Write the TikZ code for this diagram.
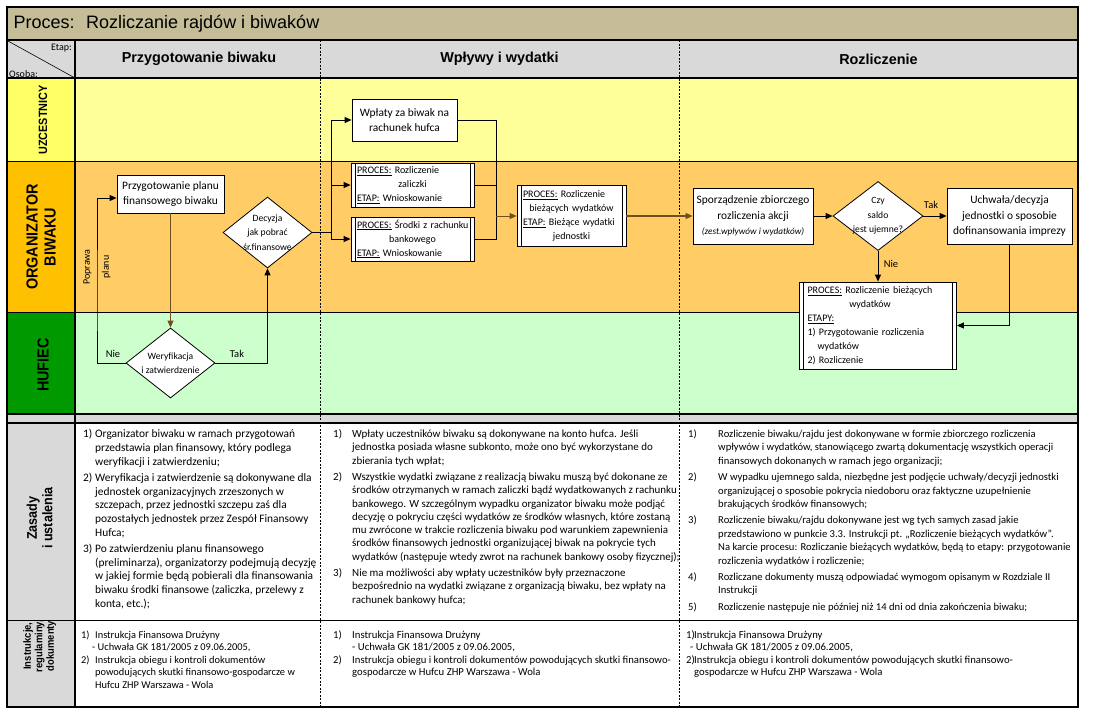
\documentclass[tikz,border=0pt]{standalone}
\usepackage{fontspec}
\setmainfont{Carlito}
\newfontfamily\arialfont{Liberation Sans}
\usetikzlibrary{calc,arrows.meta,shapes.geometric}

\definecolor{tytul}{RGB}{196,189,151}
\definecolor{szary}{RGB}{217,217,217}
\definecolor{torzolty}{RGB}{255,255,153}
\definecolor{torpom}{RGB}{255,204,102}
\definecolor{torziel}{RGB}{204,255,204}
\definecolor{etzolty}{RGB}{255,255,102}
\definecolor{etpom}{RGB}{255,192,0}
\definecolor{etziel}{RGB}{0,153,0}
\definecolor{braz}{RGB}{110,80,30}

\newcommand{\wsrodku}[2][\linewidth]{\makebox[#1][c]{#2}}

\tikzset{
  krok/.style={draw, fill=white, line width=0.8pt, align=center, inner sep=2pt,
    font=\fontsize{11.4}{15.5}\selectfont},
  decyzja/.style={diamond, draw, fill=white, line width=0.8pt, inner sep=0pt,
    minimum width=89, minimum height=70},
  dtekst/.style={align=center, font=\fontsize{9.6}{14.5}\selectfont},
  podproces/.style={draw, fill=white, line width=0.8pt, align=left, inner ysep=1pt,
    font=\fontsize{10}{14}\selectfont,
    path picture={\draw[line width=0.8pt]
      ([xshift=4pt]path picture bounding box.north west) -- ([xshift=4pt]path picture bounding box.south west)
      ([xshift=-4pt]path picture bounding box.north east) -- ([xshift=-4pt]path picture bounding box.south east);}},
  strz/.style={line width=0.9pt, -{Triangle[length=7pt,width=6pt]}},
  linia/.style={line width=0.9pt},
  opis/.style={font=\fontsize{10.5}{12}\selectfont},
  osoba/.style={rotate=90, font=\arialfont\bfseries},
  zasady/.style={anchor=north west, inner sep=0pt, align=left},
  kolumna/.style={line width=0.8pt, dash pattern=on 2pt off 1.5pt}
}

\begin{document}
\begin{tikzpicture}[x=1pt,y=-1pt]
\fill[white] (0,0) rectangle (1103,712);
\useasboundingbox (0,0) rectangle (1103,712);

% tla
\fill[tytul] (7,7) rectangle (1078,40);
\fill[szary] (7,40) rectangle (1078,78);
\fill[torzolty] (75,78) rectangle (1078,161);
\fill[torpom] (75,161) rectangle (1078,312);
\fill[torziel] (75,312) rectangle (1078,414);
\fill[etzolty] (7,78) rectangle (75,161);
\fill[etpom] (7,161) rectangle (75,312);
\fill[etziel] (7,312) rectangle (75,414);
\fill[szary] (7,414) rectangle (1078,423);
\fill[szary] (7,423) rectangle (75,707);

% siatka
\draw[line width=1.6pt] (7,40) -- (1078,40);
\draw[line width=1.6pt] (7,78) -- (1078,78);
\draw[line width=0.8pt] (7,161) -- (1078,161);
\draw[line width=0.8pt] (7,312) -- (1078,312);
\draw[line width=2pt] (7,414) -- (1078,414);
\draw[line width=2pt] (7,423) -- (1078,423);
\draw[line width=1pt] (7,620) -- (1078,620);
\foreach \x in {320,679}
  \draw[kolumna] (\x,40) -- (\x,707);
\draw[line width=1.2pt] (75,40) -- (75,707);
\draw[line width=0.6pt] (8,41) -- (75,78);
\draw[line width=2.5pt] (7,7) rectangle (1078,707);

% naglowki
\node[anchor=west, font=\arialfont\fontsize{18}{20}\selectfont] (proces) at (10,23.5) {Proces:~ Rozliczanie rajdów i biwaków};
\node[anchor=north east, inner sep=1pt, font=\fontsize{10}{12}\selectfont] (etap) at (73,43) {Etap:};
\node[anchor=south west, inner sep=1pt, font=\fontsize{10}{12}\selectfont] (osoba) at (8,79) {Osoba:};
\node[font=\arialfont\bfseries\fontsize{14.4}{16}\selectfont] (etap1) at (199,59) {Przygotowanie biwaku};
\node[font=\arialfont\bfseries\fontsize{14.4}{16}\selectfont] (etap2) at (499.5,59) {Wpływy i wydatki};
\node[font=\arialfont\bfseries\fontsize{14.4}{16}\selectfont] (etap3) at (878.5,59) {Rozliczenie};

\node[osoba] (uczestnicy) at (43,120) {\scalebox{0.9}[1]{\fontsize{12}{14}\selectfont UZCESTNICY}};
\node[osoba] (organizator) at (43,237) {\scalebox{0.9}[1]{\fontsize{16}{18}\selectfont
  \begin{tabular}{@{}c@{}}ORGANIZATOR\\BIWAKU\end{tabular}}};
\node[osoba] (hufiec) at (43,365) {\scalebox{0.9}[1]{\fontsize{16}{18}\selectfont HUFIEC}};
\node[osoba] (zasady) at (41.5,518) {\scalebox{0.9}[1]{\fontsize{14}{15.5}\selectfont
  \begin{tabular}{@{}c@{}}Zasady\\i ustalenia\end{tabular}}};
\node[osoba] (instrukcje) at (40,646) {\scalebox{0.9}[1]{\fontsize{10.5}{11.5}\selectfont
  \begin{tabular}{@{}c@{}}Instrukcje,\\regulaminy,\\dokumenty\end{tabular}}};

% przebieg
\node[krok, minimum width=107, minimum height=38] (plan) at (170.5,194) {Przygotowanie planu\\finansowego biwaku};
\node[decyzja, label={[dtekst]center:{Weryfikacja\\i zatwierdzenie}}] (wer) at (170.5,363) {};
\node[decyzja, minimum height=71, label={[dtekst]center:{Decyzja\\jak pobrać\\śr.finansowe}}] (dec) at (267.5,232.5) {};
\node[krok, minimum width=105, minimum height=42] (wplaty) at (404.5,120) {Wpłaty za biwak na\\rachunek hufca};
\node[podproces, text width=111, inner xsep=6, minimum height=44] (zal) at (412.5,185)
  {\underline{PROCES:} Rozliczenie\\\wsrodku{zaliczki}\\\underline{ETAP:} Wnioskowanie};
\node[podproces, text width=111, inner xsep=6, minimum height=44] (srodki) at (412.5,239)
  {\mbox{\underline{PROCES:} Środki z rachunku}\\\wsrodku{bankowego}\\\underline{ETAP:} Wnioskowanie};
\node[podproces, text width=97, inner xsep=6, minimum height=61] (biez) at (571.5,216)
  {\underline{PROCES:} Rozliczenie\\\wsrodku{bieżących wydatków}\\\underline{ETAP:} Bieżące wydatki\\\wsrodku{jednostki}};
\node[krok, minimum width=120, minimum height=56] (spor) at (753,216)
  {Sporządzenie zbiorczego\\rozliczenia akcji\\{\fontsize{9.2}{15.5}\selectfont\itshape (zest.wpływów i wydatków)}};
\node[decyzja, minimum width=90, minimum height=69, label={[dtekst]center:{Czy\\saldo\\jest ujemne?}}] (czy) at (878,216) {};
\node[krok, minimum width=125, minimum height=56] (uch) at (1009.5,216)
  {Uchwała/decyzja\\jednostki o sposobie\\dofinansowania imprezy};
\node[podproces, text width=141, inner xsep=8, minimum height=87] (rozl) at (878,325.5)
  {\underline{PROCES:} Rozliczenie bieżących\\\wsrodku[125pt]{wydatków}\\\underline{ETAPY:}\\1) Przygotowanie rozliczenia\\\hspace*{10pt}wydatków\\2) Rozliczenie};

\node[opis] (nie1) at (113,354) {Nie};
\node[opis] (tak1) at (237,354) {Tak};
\node[opis, rotate=90, align=center, font=\fontsize{10}{19}\selectfont] (poprawa) at (97,267) {Poprawa\\planu};
\node[opis] (tak2) at (931,205) {Tak};
\node[opis] (nie2) at (891,264) {Nie};

\coordinate (powrot) at (97,300);
\coordinate (rozgal) at (331,232.5);
\coordinate (zbieg) at (496,216);

\draw[strz, braz] (plan) -- (wer);
\draw[strz] (wer.west) -| (powrot) |- ([yshift=-4pt]plan.west);
\draw[strz] (wer.east) -| (dec.south);
\draw[linia] (dec.east) -- (rozgal);
\draw[strz] (rozgal) |- (wplaty.west);
\draw[strz] (rozgal) |- (zal.west);
\draw[strz] (rozgal) |- (srodki.west);
\draw[linia] (wplaty.east) -| (zbieg);
\draw[linia] (zal.east) -- (zal.east -| zbieg);
\draw[linia] (srodki.east) -| (zbieg);
\draw[strz, braz] (zbieg) -- (biez.west);
\draw[strz, braz, line width=1.3pt] (biez.east) -- (spor.west);
\draw[strz] (spor.east) -- (czy.west);
\draw[strz] (czy.east) -- (uch.west);
\draw[strz] (czy.south) -- (rozl.north);
\draw[strz] (uch.south) |- (rozl.east);

% zasady i ustalenia
\node[zasady, font=\fontsize{11.4}{13.8}\selectfont] (zas1) at (83,428) {\begin{tabular}{@{}p{12pt}@{}l@{}}
1) & Organizator biwaku w ramach przygotowań\\
   & przedstawia plan finansowy, który podlega\\
   & weryfikacji i zatwierdzeniu;\\[2pt]
2) & Weryfikacja i zatwierdzenie są dokonywane dla\\
   & jednostek organizacyjnych zrzeszonych w\\
   & szczepach, przez jednostki szczepu zaś dla\\
   & pozostałych jednostek przez Zespół Finansowy\\
   & Hufca;\\[2pt]
3) & Po zatwierdzeniu planu finansowego\\
   & (preliminarza), organizatorzy podejmują decyzję\\
   & w jakiej formie będą pobierali dla finansowania\\
   & biwaku środki finansowe (zaliczka, przelewy z\\
   & konta, etc.);
\end{tabular}};
\node[zasady, font=\fontsize{10.95}{13.3}\selectfont] (zas2) at (333,428) {\begin{tabular}{@{}p{19pt}@{}l@{}}
1) & Wpłaty uczestników biwaku są dokonywane na konto hufca. Jeśli\\
   & jednostka posiada własne subkonto, może ono być wykorzystane do\\
   & zbierania tych wpłat;\\[3pt]
2) & Wszystkie wydatki związane z realizacją biwaku muszą być dokonane ze\\
   & środków otrzymanych w ramach zaliczki bądź wydatkowanych z rachunku\\
   & bankowego. W szczególnym wypadku organizator biwaku może podjąć\\
   & decyzję o pokryciu części wydatków ze środków własnych, które zostaną\\
   & mu zwrócone w trakcie rozliczenia biwaku pod warunkiem zapewnienia\\
   & środków finansowych jednostki organizującej biwak na pokrycie tych\\
   & wydatków (następuje wtedy zwrot na rachunek bankowy osoby fizycznej);\\[3pt]
3) & Nie ma możliwości aby wpłaty uczestników były przeznaczone\\
   & bezpośrednio na wydatki związane z organizacją biwaku, bez wpłaty na\\
   & rachunek bankowy hufca;
\end{tabular}};
\node[zasady, font=\fontsize{10.6}{13.4}\selectfont] (zas3) at (688,428) {\begin{tabular}{@{}p{30pt}@{}l@{}}
1) & Rozliczenie biwaku/rajdu jest dokonywane w formie zbiorczego rozliczenia\\
   & wpływów i wydatków, stanowiącego zwartą dokumentację wszystkich operacji\\
   & finansowych dokonanych w ramach jego organizacji;\\[3pt]
2) & W wypadku ujemnego salda, niezbędne jest podjęcie uchwały/decyzji jednostki\\
   & organizującej o sposobie pokrycia niedoboru oraz faktyczne uzupełnienie\\
   & brakujących środków finansowych;\\[3pt]
3) & Rozliczenie biwaku/rajdu dokonywane jest wg tych samych zasad jakie\\
   & przedstawiono w punkcie 3.3. Instrukcji pt. „Rozliczenie bieżących wydatków”.\\
   & Na karcie procesu: Rozliczanie bieżących wydatków, będą to etapy: przygotowanie\\
   & rozliczenia wydatków i rozliczenie;\\[3pt]
4) & Rozliczane dokumenty muszą odpowiadać wymogom opisanym w Rozdziale II\\
   & Instrukcji\\[3pt]
5) & Rozliczenie następuje nie później niż 14 dni od dnia zakończenia biwaku;
\end{tabular}};

% instrukcje
\node[zasady, font=\fontsize{10.4}{12.6}\selectfont] (ins1) at (81,629) {\begin{tabular}{@{}p{14pt}@{}l@{}}
1) & Instrukcja Finansowa Drużyny\\
   & \hspace*{-3pt}- Uchwała GK 181/2005 z 09.06.2005,\\
2) & Instrukcja obiegu i kontroli dokumentów\\
   & powodujących skutki finansowo-gospodarcze w\\
   & Hufcu ZHP Warszawa - Wola
\end{tabular}};
\node[zasady, font=\fontsize{10.7}{12.6}\selectfont] (ins2) at (333,629) {\begin{tabular}{@{}p{19pt}@{}l@{}}
1) & Instrukcja Finansowa Drużyny\\
   & - Uchwała GK 181/2005 z 09.06.2005,\\
2) & Instrukcja obiegu i kontroli dokumentów powodujących skutki finansowo-\\
   & gospodarcze w Hufcu ZHP Warszawa - Wola
\end{tabular}};
\node[zasady, font=\fontsize{10.7}{12.6}\selectfont] (ins3) at (686,629) {\begin{tabular}{@{}p{8pt}@{}l@{}}
1) & Instrukcja Finansowa Drużyny\\
   & \hspace*{-4pt}- Uchwała GK 181/2005 z 09.06.2005,\\
2) & Instrukcja obiegu i kontroli dokumentów powodujących skutki finansowo-\\
   & gospodarcze w Hufcu ZHP Warszawa - Wola
\end{tabular}};
\end{tikzpicture}
\end{document}
